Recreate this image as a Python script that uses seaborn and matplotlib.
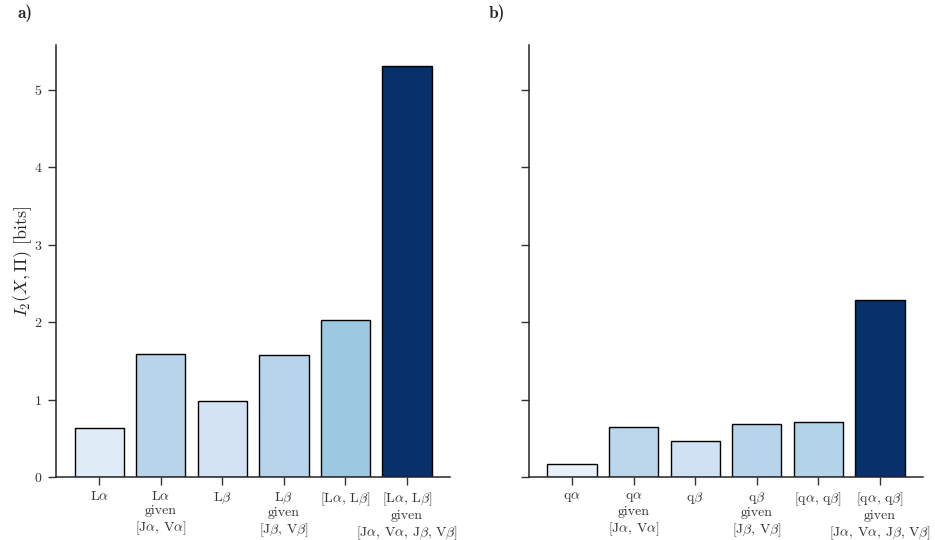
import numpy as np
import pandas as pd
import matplotlib.pyplot as plt
import seaborn as sns

labels_a = ["L$\\alpha$", "L$\\alpha$\ngiven\n[J$\\alpha$, V$\\alpha$]", "L$\\beta$",
            "L$\\beta$\ngiven\n[J$\\beta$, V$\\beta$]", "[L$\\alpha$, L$\\beta$]",
            "[L$\\alpha$, L$\\beta$]\ngiven\n[J$\\alpha$, V$\\alpha$, J$\\beta$, V$\\beta$]"]
values_a = [0.63, 1.59, 0.98, 1.58, 2.03, 5.31]

labels_b = ["q$\\alpha$", "q$\\alpha$\ngiven\n[J$\\alpha$, V$\\alpha$]", "q$\\beta$",
            "q$\\beta$\ngiven\n[J$\\beta$, V$\\beta$]", "[q$\\alpha$, q$\\beta$]",
            "[q$\\alpha$, q$\\beta$]\ngiven\n[J$\\alpha$, V$\\alpha$, J$\\beta$, V$\\beta$]"]
values_b = [0.17, 0.65, 0.47, 0.68, 0.71, 2.29]

sns.set_style("ticks")
plt.rcParams['font.family'] = ['cmr10', 'DejaVu Serif']
plt.rcParams['mathtext.fontset'] = 'cm'
plt.rcParams['axes.formatter.use_mathtext'] = True
plt.rcParams['axes.unicode_minus'] = False

fig = plt.figure(figsize=(9.35, 5.4), dpi=100)
ax1 = fig.add_axes([0.060, 0.1167, 0.4214, 0.80])
ax2 = fig.add_axes([0.5658, 0.1167, 0.4214, 0.80])

for ax, labels, values in [(ax1, labels_a, values_a), (ax2, labels_b, values_b)]:
    df = pd.DataFrame({"name": labels, "val": values})
    sns.barplot(data=df, x="name", y="val", hue="val", palette="Blues",
                hue_norm=(0, max(values)), legend=False, edgecolor="black",
                linewidth=1, width=0.8, saturation=1, ax=ax)
    ax.set_xlim(-0.7, 5.7)
    ax.set_ylim(0, 5.58)
    ax.set_yticks([0, 1, 2, 3, 4, 5])
    ax.set_xlabel("")
    ax.set_ylabel("")
    ax.tick_params(axis='both', length=6, width=1, colors='.2', labelsize=10)
    ax.tick_params(axis='y', pad=4)
    for s in ["left", "bottom"]:
        ax.spines[s].set_linewidth(1.1)
        ax.spines[s].set_color('.15')
    sns.despine(ax=ax)

ax1.set_ylabel("$I_2(X, \\Pi)$ [bits]", fontsize=13)
ax1.yaxis.set_label_coords(-0.056, 0.5)
ax2.set_yticklabels([])

fig.text(0.019, 0.975, "a)", fontsize=12.5, fontfamily='cmb10', va='center')
fig.text(0.523, 0.975, "b)", fontsize=12.5, fontfamily='cmb10', va='center')

plt.savefig("out.png", dpi=100)
